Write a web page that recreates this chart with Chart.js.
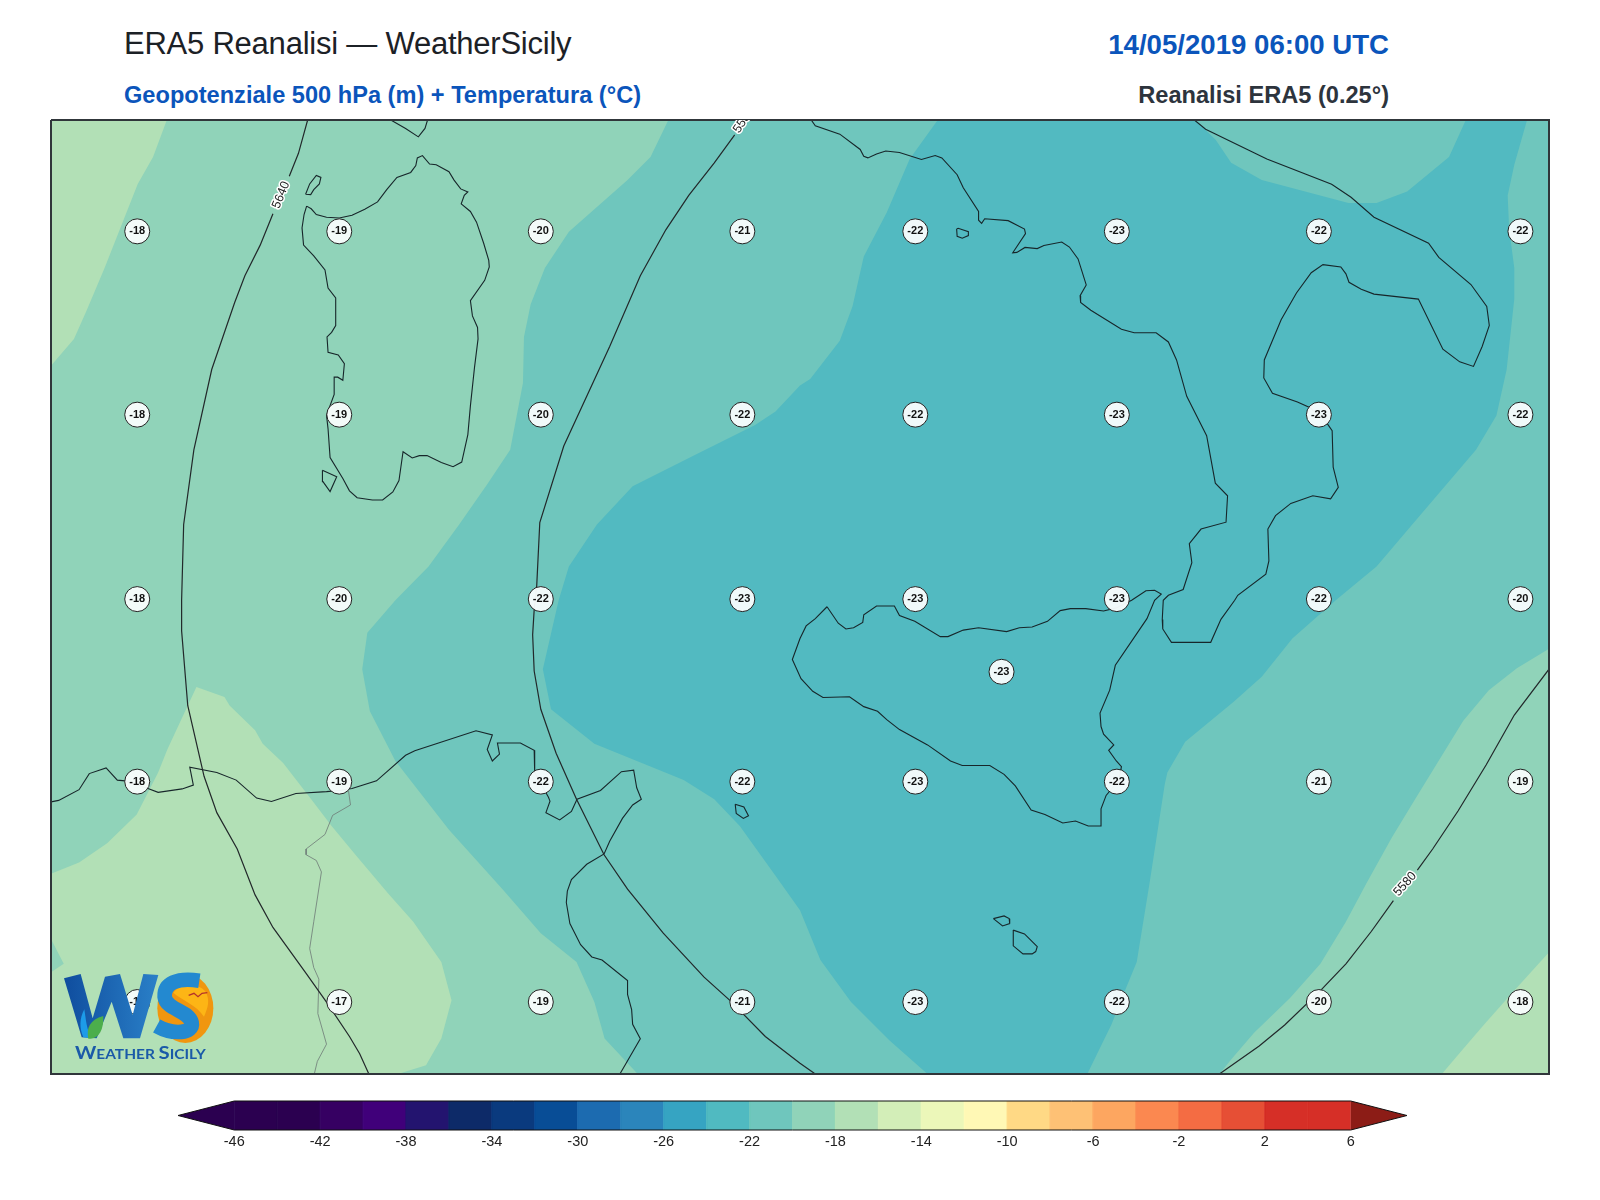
<!DOCTYPE html>
<html lang="it">
<head>
<meta charset="utf-8">
<title>ERA5 Reanalisi — WeatherSicily</title>
<script src="https://cdn.jsdelivr.net/npm/chart.js@4/dist/chart.umd.min.js"></script>
<style>
    html, body { margin: 0; padding: 0; background: #fff; }
    body { position: relative; width: 1600px; height: 1200px; overflow: hidden; font-family: "Liberation Sans", Arial, sans-serif; }
    canvas { position: absolute; left: 0; }
    #mapChart { top: 0; }
    #barChart { top: 1090px; }
    .head { position: absolute; white-space: nowrap; line-height: 1; }
    #title { left: 124px; top: 27.5px; font-size: 31px; color: #1c2126; letter-spacing: -0.23px; }
    #subtitle { left: 124px; top: 83.5px; font-size: 23.6px; font-weight: bold; color: #0b55bb; }
    #stamp { right: 211px; top: 30.5px; font-size: 27.6px; font-weight: bold; color: #0b55bb; }
    #source { right: 211px; top: 83.5px; font-size: 23.6px; font-weight: bold; color: #2d343d; }
    #logo { position: absolute; left: 40px; top: 950px; width: 200px; height: 130px; }
</style>
</head>
<body>
<div class="head" id="title">ERA5 Reanalisi — WeatherSicily</div>
<div class="head" id="subtitle">Geopotenziale 500 hPa (m) + Temperatura (°C)</div>
<div class="head" id="stamp">14/05/2019 06:00 UTC</div>
<div class="head" id="source">Reanalisi ERA5 (0.25°)</div>
<canvas id="mapChart" width="1600" height="1200"></canvas>
<canvas id="barChart" width="1600" height="70"></canvas>
<svg id="logo" viewBox="0 0 600 390">
    <defs>
        <linearGradient id="wBlue" x1="0" y1="0" x2="1" y2="0">
            <stop offset="0" stop-color="#0f4d9e"/>
            <stop offset="1" stop-color="#2a80c8"/>
        </linearGradient>
    </defs>
    <ellipse cx="436" cy="175" rx="84" ry="104" fill="#f0960f"/>
    <path d="M400,128 C420,100 475,98 497,125 C510,150 505,170 492,200 C470,165 425,150 400,128 Z" fill="#fdb515"/>
    <path d="M72,85 L122,72 L158,205 L195,80 L240,72 L278,195 L310,72 L355,75 L300,265 L250,265 L215,155 L170,265 L125,262 Z" fill="url(#wBlue)"/>
    <path d="M133,178 C118,205 118,235 130,262 L155,265 C140,240 138,210 133,178 Z" fill="#1d9be8"/>
    <path d="M190,198 C150,208 138,235 145,266 C175,270 192,240 190,198 Z" fill="#4cae4c"/>
    <path d="M478,92 C410,82 372,100 374,140 C378,180 445,180 455,218 C462,250 400,256 350,228" fill="none" stroke="#2389d0" stroke-width="44"/>
    <path d="M446,136 L462,130 L474,140 L486,130 L502,128" fill="none" stroke="#b5342a" stroke-width="4"/>
    <text x="105" y="328" fill="#1a5aa8" font-family="Lato, 'Open Sans', sans-serif" font-weight="bold" font-size="38" textLength="392" lengthAdjust="spacingAndGlyphs"><tspan font-size="50">W</tspan>EATHER <tspan font-size="50">S</tspan>ICILY</text>
</svg>
<script>
// Map extents, in the units the outlines were traced in
const mapLeft = 100, mapRight = 3036, mapTop = 313, mapBottom = 2806;

// Temperature labels (°C)
const gridCols = [269, 665, 1060, 1455, 1794, 2189, 2585, 2980];
const gridRows = [604, 1083, 1565, 2042, 2618];
const tempsRow1 = [-18, -19, -20, -21, -22, -23, -22, -22];
const tempsRow2 = [-18, -19, -20, -22, -22, -23, -23, -22];
const tempsRow3 = [-18, -20, -22, -23, -23, -23, -22, -20];
const tempsRow4 = [-18, -19, -22, -22, -23, -22, -21, -19];
const tempsRow5 = [-17, -17, -19, -21, -23, -22, -20, -18];
const tempRows = [tempsRow1, tempsRow2, tempsRow3, tempsRow4, tempsRow5];
const extraTemp = { x: 1963, y: 1755, t: -23 };

// Colour bar
const barLevels = [-46, -44, -42, -40, -38, -36, -34, -32, -30, -28, -26, -24, -22, -20, -18, -16, -14, -12, -10, -8, -6, -4, -2, 0, 2, 4, 6];
const barColors = ['#2b0050', '#2b0050', '#360062', '#40007a', '#23146f', '#0d2a68', '#0a3a7e', '#084d96', '#1c6bb0', '#2b85bb', '#36a4c2', '#50bac1', '#6fc6bd', '#90d3b9', '#b2e0b6', '#d3eeb8', '#ecf7b9', '#fff8b5', '#ffd985', '#fec175', '#fda660', '#fb8850', '#f46c43', '#e64f35', '#d62f27', '#d62f27'];
const barTicks = [-46, -42, -38, -34, -30, -26, -22, -18, -14, -10, -6, -2, 2, 6];
const barLowTip = -48.62, barHighTip = 8.62;
const colorLow = '#2b0050', colorHigh = '#8c1c16';

// Filled temperature bands
const bandCold = [[1838,313],[1783,415],[1738,555],[1693,670],[1671,800],[1646,890],[1588,990],[1568,1007],[1520,1075],[1480,1110],[1360,1190],[1240,1270],[1170,1370],[1115,1480],[1095,1568],[1064,1748],[1080,1853],[1165,1943],[1340,2038],[1400,2088],[1450,2158],[1520,2288],[1568,2378],[1608,2508],[1668,2618],[1743,2718],[1818,2806],[2131,2806],[2178,2678],[2208,2578],[2228,2513],[2253,2308],[2283,2048],[2288,2018],[2323,1938],[2418,1833],[2473,1768],[2533,1668],[2618,1568],[2698,1480],[2768,1370],[2893,1175],[2933,1085],[2953,965],[2968,780],[2968,700],[2958,600],[2955,510],[2968,430],[2993,313],[2873,313],[2840,410],[2758,500],[2698,530],[2643,530],[2473,470],[2413,425],[2383,365],[2343,313]];
const bandWest = [[1310,313],[1275,410],[1230,470],[1115,605],[1068,700],[1040,795],[1027,880],[1025,1000],[1000,1175],[955,1265],[900,1370],[840,1480],[775,1568],[720,1653],[710,1748],[725,1858],[775,1988],[880,2168],[985,2323],[1060,2438],[1130,2513],[1165,2618],[1185,2713],[1250,2806],[100,2806],[100,313]];
const bandEast = [[2390,2806],[2413,2768],[2458,2698],[2528,2608],[2588,2518],[2638,2408],[2678,2308],[2728,2188],[2778,2078],[2868,1883],[2918,1803],[2973,1746],[3036,1695],[3036,2806]];
const bandNorthWest = [[327,313],[300,410],[270,480],[205,700],[170,810],[145,885],[100,955],[100,313]];
const bandSouthWest = [[100,2283],[155,2253],[210,2203],[268,2128],[310,2018],[328,1958],[385,1795],[440,1821],[450,1843],[500,1908],[515,1943],[555,1993],[610,2088],[650,2158],[700,2238],[760,2333],[810,2408],[865,2513],[885,2613],[865,2713],[835,2783],[780,2806],[100,2806]];
const bandWedge = [[100,2453],[125,2518],[100,2540]];
const bandSouthEast = [[3036,2488],[2968,2588],[2908,2678],[2863,2748],[2826,2806],[3036,2806]];

// Coastlines
const sardinia = [[601,538],[610,545],[620,560],[640,567],[665,569],[690,562],[715,546],[740,527],[758,495],[778,463],[805,450],[815,432],[818,412],[828,406],[842,428],[855,430],[880,448],[890,470],[903,493],[917,501],[910,510],[904,532],[922,552],[934,580],[948,635],[958,680],[959,697],[950,732],[922,785],[926,825],[936,855],[937,885],[930,960],[922,1060],[917,1135],[905,1207],[888,1219],[865,1208],[837,1190],[822,1190],[808,1196],[790,1180],[782,1255],[770,1285],[750,1306],[730,1306],[700,1300],[685,1282],[672,1250],[647,1195],[643,1120],[640,1085],[655,1030],[655,985],[662,985],[672,993],[675,950],[663,927],[643,920],[641,880],[650,868],[658,850],[658,778],[643,752],[637,705],[615,668],[595,640],[592,595],[596,560],[601,538]];
const corsicaTip = [[766,313],[795,335],[820,357],[833,335],[838,313]];
const maddalena = [[599,507],[607,480],[620,458],[629,463],[626,480],[615,495],[609,508],[599,507]];
const sanPietro = [[632,1228],[660,1245],[647,1284],[633,1258],[632,1228]];
const italy = [[1590,313],[1598,328],[1646,350],[1686,390],[1693,408],[1701,412],[1718,402],[1736,394],[1763,398],[1806,416],[1833,406],[1846,412],[1876,456],[1888,490],[1918,552],[1918,575],[1924,583],[1930,571],[1976,576],[2008,598],[2010,610],[1985,660],[1993,659],[2009,646],[2033,649],[2046,641],[2081,632],[2096,645],[2113,676],[2129,744],[2117,772],[2118,790],[2138,810],[2198,860],[2223,869],[2266,869],[2290,893],[2306,940],[2326,1035],[2365,1138],[2382,1262],[2406,1295],[2403,1364],[2354,1382],[2331,1420],[2336,1470],[2319,1540],[2290,1555],[2280,1568],[2278,1618],[2279,1643],[2296,1678],[2373,1678],[2393,1618],[2420,1568],[2426,1555],[2481,1500],[2487,1465],[2485,1382],[2500,1347],[2530,1315],[2573,1295],[2608,1303],[2623,1273],[2613,1220],[2611,1125],[2598,1100],[2568,1065],[2543,1050],[2494,1027],[2477,987],[2478,940],[2511,835],[2541,765],[2570,712],[2593,691],[2628,697],[2638,715],[2644,737],[2668,755],[2693,768],[2780,781],[2828,912],[2861,945],[2888,957],[2905,905],[2919,850],[2914,800],[2883,743],[2820,672],[2800,635],[2693,567],[2648,515],[2610,481],[2483,415],[2363,337],[2341,313]];
const sicily = [[1621,1585],[1643,1628],[1658,1643],[1673,1640],[1691,1626],[1693,1606],[1718,1583],[1753,1583],[1763,1608],[1793,1623],[1843,1663],[1858,1663],[1888,1646],[1918,1640],[1973,1650],[1998,1640],[2023,1638],[2053,1623],[2078,1595],[2098,1590],[2128,1590],[2163,1596],[2188,1588],[2218,1568],[2246,1543],[2263,1542],[2276,1552],[2263,1568],[2248,1616],[2186,1738],[2175,1803],[2156,1863],[2158,1898],[2163,1918],[2183,1946],[2173,1960],[2188,1988],[2198,2003],[2193,2038],[2168,2078],[2158,2113],[2158,2158],[2133,2158],[2108,2145],[2083,2150],[2048,2128],[2021,2116],[1990,2053],[1968,2023],[1940,2000],[1886,2000],[1863,1988],[1818,1946],[1763,1906],[1738,1880],[1720,1858],[1693,1846],[1665,1820],[1613,1822],[1593,1806],[1570,1773],[1553,1723],[1568,1668],[1580,1635],[1598,1616],[1621,1585]];
const ustica = [[1875,598],[1878,596],[1898,605],[1898,615],[1886,622],[1876,617],[1875,598]];
const pantelleria = [[1441,2101],[1458,2108],[1467,2131],[1457,2138],[1443,2125],[1441,2101]];
const gozo = [[1947,2400],[1968,2393],[1978,2400],[1979,2413],[1965,2419],[1947,2400]];
const malta = [[1986,2430],[2008,2440],[2033,2473],[2030,2486],[2023,2492],[2005,2492],[1986,2471],[1986,2430]];
const africa = [[100,2095],[115,2091],[155,2063],[175,2021],[208,2006],[230,2038],[245,2040],[290,2060],[310,2070],[357,2061],[379,2051],[372,2004],[425,2018],[463,2038],[503,2085],[532,2094],[580,2073],[640,2068],[665,2065],[690,2060],[738,2040],[795,1973],[813,1961],[933,1909],[965,1920],[955,1958],[965,1988],[979,1970],[975,1941],[1020,1941],[1047,1960],[1048,2018],[1075,2083],[1078,2093],[1070,2123],[1097,2142],[1120,2120],[1131,2088],[1177,2065],[1218,2016],[1242,2012],[1248,2058],[1257,2088],[1240,2103],[1220,2138],[1195,2198],[1184,2231],[1150,2258],[1120,2298],[1112,2328],[1110,2358],[1117,2413],[1138,2468],[1160,2500],[1180,2508],[1230,2562],[1230,2598],[1238,2638],[1240,2676],[1255,2714],[1215,2806]];
const border = [[683,2065],[687,2103],[652,2130],[637,2180],[600,2218],[600,2233],[620,2248],[630,2278],[615,2408],[607,2478],[615,2528],[625,2558],[623,2648],[640,2728],[622,2773],[616,2806]];

// Geopotential contours (m)
const contour5640North = [[603,313],[585,400],[567,460]];
const contour5640South = [[535,558],[510,640],[480,720],[460,790],[415,965],[380,1175],[360,1370],[356,1568],[356,1648],[368,1843],[400,2028],[425,2123],[465,2218],[500,2338],[535,2423],[600,2543],[640,2618],[685,2708],[705,2753],[723,2806]];
const contour5580West = [[1440,352],[1400,425],[1350,510],[1305,600],[1255,720],[1195,905],[1105,1165],[1058,1365],[1052,1530],[1047,1593],[1044,1658],[1047,1753],[1060,1853],[1090,1968],[1130,2088],[1184,2233],[1230,2323],[1300,2438],[1380,2553],[1430,2613],[1500,2708],[1568,2778],[1598,2806]];
const contour5580EastLow = [[2390,2806],[2468,2733],[2518,2678],[2588,2588],[2638,2518],[2688,2433],[2731,2353]];
const contour5580EastHigh = [[2778,2273],[2808,2218],[2858,2118],[2913,1998],[2968,1868],[3036,1748]];
const contourLabelText = ['5640', '5580', '5580'];
const contourLabelX = [551, 1458, 2754];
const contourLabelY = [509, 314, 2310];
const contourLabelAngle = [-68, -56, -48];

const toPoints = list => list.map(p => ({ x: p[0], y: p[1] }));

function fillLayer(list, color) {
    return { data: toPoints(list), showLine: true, fill: 'shape', backgroundColor: color, borderWidth: 0, pointRadius: 0 };
}

function lineLayer(list, color, width) {
    return { data: toPoints(list), showLine: true, fill: false, borderColor: color, borderWidth: width, pointRadius: 0, tension: 0 };
}

// --- Map ---

const gridPoints = [];
gridRows.forEach((y, r) => gridCols.forEach((x, c) => gridPoints.push({ x, y, t: tempRows[r][c] })));
gridPoints.push(extraTemp);

const frame = [[mapLeft, mapTop], [mapRight, mapTop], [mapRight, mapBottom], [mapLeft, mapBottom], [mapLeft, mapTop]];
const coastColor = '#17262a';

// back to front
const mapLayers = [
    fillLayer(frame, '#6fc6bd'),
    fillLayer(bandCold, '#52bac1'),
    fillLayer(bandWest, '#90d3b9'),
    fillLayer(bandEast, '#90d3b9'),
    fillLayer(bandNorthWest, '#b2e0b6'),
    fillLayer(bandSouthWest, '#b2e0b6'),
    fillLayer(bandSouthEast, '#b2e0b6'),
    fillLayer(bandWedge, '#90d3b9'),
    lineLayer(border, '#6d7a76', 0.8),
    lineLayer(sardinia, coastColor, 1.1),
    lineLayer(corsicaTip, coastColor, 1.1),
    lineLayer(maddalena, coastColor, 1.1),
    lineLayer(sanPietro, coastColor, 1.1),
    lineLayer(italy, coastColor, 1.1),
    lineLayer(sicily, coastColor, 1.1),
    lineLayer(ustica, coastColor, 1.1),
    lineLayer(pantelleria, coastColor, 1.1),
    lineLayer(gozo, coastColor, 1.1),
    lineLayer(malta, coastColor, 1.1),
    lineLayer(africa, coastColor, 1.1),
    lineLayer(contour5640North, '#22282a', 1.2),
    lineLayer(contour5640South, '#22282a', 1.2),
    lineLayer(contour5580West, '#22282a', 1.2),
    lineLayer(contour5580EastLow, '#22282a', 1.2),
    lineLayer(contour5580EastHigh, '#22282a', 1.2),
    { ...lineLayer(frame, '#30363a', 2), clip: false },
    {
        data: gridPoints,
        showLine: false,
        pointRadius: 12.5,
        pointBackgroundColor: 'rgba(247,252,252,0.96)',
        pointBorderColor: '#222',
        pointBorderWidth: 1,
        isTempLayer: true,
    },
];
mapLayers.forEach((layer, i) => { layer.order = mapLayers.length - i; });

const mapLabels = {
    id: 'mapLabels',
    afterDatasetsDraw(chart) {
        const { ctx, chartArea, scales } = chart;

        // contour labels, cut off by the map edge like the original
        ctx.save();
        ctx.beginPath();
        ctx.rect(chartArea.left, chartArea.top, chartArea.width, chartArea.height);
        ctx.clip();
        ctx.font = '12.5px "Liberation Sans"';
        ctx.textAlign = 'center';
        ctx.textBaseline = 'middle';
        contourLabelText.forEach((text, i) => {
            ctx.save();
            ctx.translate(scales.x.getPixelForValue(contourLabelX[i]), scales.y.getPixelForValue(contourLabelY[i]));
            ctx.rotate(contourLabelAngle[i] * Math.PI / 180);
            ctx.lineWidth = 3;
            ctx.lineJoin = 'round';
            ctx.strokeStyle = '#fff';
            ctx.strokeText(text, 0, 0);
            ctx.fillStyle = '#222';
            ctx.fillText(text, 0, 0);
            ctx.restore();
        });
        ctx.restore();

        // temperature values inside the circles
        const idx = mapLayers.findIndex(l => l.isTempLayer);
        const meta = chart.getDatasetMeta(idx);
        ctx.save();
        ctx.font = 'bold 11px "Liberation Sans"';
        ctx.textAlign = 'center';
        ctx.textBaseline = 'middle';
        ctx.fillStyle = '#111';
        meta.data.forEach((pt, i) => ctx.fillText(String(gridPoints[i].t), pt.x, pt.y));
        ctx.restore();
    },
};

new Chart(document.getElementById('mapChart'), {
    type: 'scatter',
    data: { datasets: mapLayers },
    options: {
        responsive: false,
        animation: false,
        events: [],
        layout: { padding: { left: 51, right: 51, top: 120, bottom: 126 } },
        plugins: { legend: { display: false }, tooltip: { enabled: false } },
        scales: {
            x: { type: 'linear', min: mapLeft, max: mapRight, display: false },
            y: { type: 'linear', min: mapTop, max: mapBottom, reverse: true, display: false },
        },
    },
    plugins: [mapLabels],
});

// --- Colour bar ---

const barLayers = barColors.map((color, i) => {
    const a = barLevels[i], b = barLevels[i + 1];
    return {
        data: toPoints([[a, 0], [b, 0], [b, 1], [a, 1], [a, 0]]),
        showLine: true,
        fill: 'shape',
        backgroundColor: color,
        borderColor: color,
        borderWidth: 0.5,
        pointRadius: 0,
    };
});
const first = barLevels[0], last = barLevels[barLevels.length - 1];
barLayers.push(fillLayer([[first, 0], [first, 1], [barLowTip, 0.5]], colorLow));
barLayers.push(fillLayer([[last, 0], [last, 1], [barHighTip, 0.5]], colorHigh));
barLayers.push({
    ...lineLayer([[first, 1], [last, 1], [barHighTip, 0.5], [last, 0], [first, 0], [barLowTip, 0.5], [first, 1]], '#111', 1),
    clip: false,
});
barLayers.forEach((layer, i) => { layer.order = barLayers.length - i; });

new Chart(document.getElementById('barChart'), {
    type: 'scatter',
    data: { datasets: barLayers },
    options: {
        responsive: false,
        animation: false,
        events: [],
        layout: { padding: { left: 178, right: 193, top: 11, bottom: 0 } },
        plugins: { legend: { display: false }, tooltip: { enabled: false } },
        scales: {
            x: {
                type: 'linear',
                min: barLowTip,
                max: barHighTip,
                afterBuildTicks: scale => { scale.ticks = barTicks.map(value => ({ value })); },
                afterFit: scale => { scale.height = 30; },
                grid: { display: false, drawTicks: false },
                border: { display: false },
                ticks: {
                    autoSkip: false,
                    maxRotation: 0,
                    padding: 3,
                    color: '#222',
                    font: { family: '"Liberation Sans"', size: 14.5 },
                },
            },
            y: { type: 'linear', min: 0, max: 1, display: false },
        },
    },
});
</script>
</body>
</html>
